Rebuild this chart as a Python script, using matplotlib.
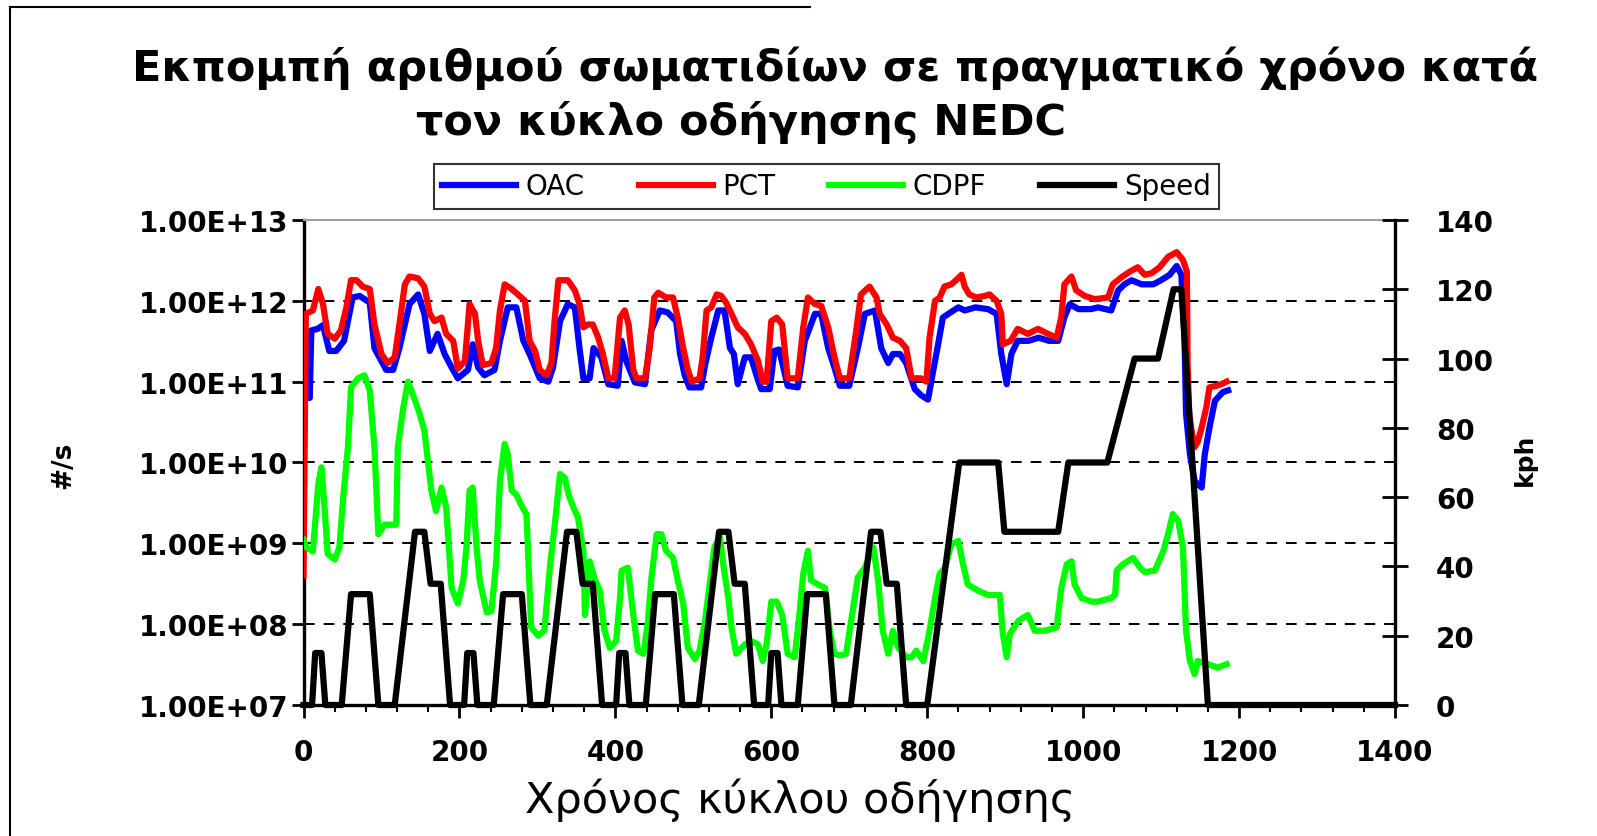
import matplotlib
matplotlib.use("Agg")
import matplotlib.pyplot as plt
import numpy as np
from matplotlib.ticker import FixedLocator, MultipleLocator, NullLocator, FuncFormatter
from matplotlib.lines import Line2D
from matplotlib.font_manager import FontProperties

# ---------------- data ----------------
title_line1 = "Εκπομπή αριθμού σωματιδίων σε πραγματικό χρόνο κατά"
title_line2 = "τον κύκλο οδήγησης NEDC"
x_label = "Χρόνος κύκλου οδήγησης"
y_label_left = "#/s"
y_label_right = "kph"
series_names = ["OAC", "PCT", "CDPF", "Speed"]

t_pct = [0, 3, 12, 19, 25, 31, 40, 48, 55, 61, 68, 76, 85, 91, 100, 108, 117, 123, 130, 136,
         147, 155, 162, 168, 177, 183, 192, 198, 207, 213, 220, 224, 230, 241, 247, 252, 258, 267,
         275, 284, 290, 297, 303, 312, 318, 322, 327, 339, 348, 354, 359, 365, 371, 378, 384, 391,
         399, 406, 412, 417, 423, 427, 438, 444, 450, 455, 465, 474, 480, 487, 493, 498, 508, 512,
         517, 523, 530, 536, 542, 549, 557, 566, 574, 583, 589, 594, 600, 607, 614, 621, 634, 641,
         647, 656, 664, 673, 681, 688, 700, 709, 715, 726, 735, 739, 748, 756, 765, 773, 780, 792,
         799, 803, 810, 816, 822, 831, 837, 844, 848, 854, 863, 874, 880, 889, 895, 897, 907, 916,
         929, 942, 955, 966, 972, 976, 985, 991, 1002, 1015, 1032, 1038, 1049, 1060, 1070, 1079,
         1088, 1098, 1109, 1120, 1128, 1133, 1134, 1136, 1139, 1143, 1147, 1152, 1158, 1162, 1171,
         1177, 1184]
pct = [4.0e8, 6.9e11, 7.6e11, 1.4e12, 9.1e11, 3.9e11, 3.4e11, 4.3e11, 8.3e11, 1.8e12, 1.8e12,
       1.5e12, 1.4e12, 5.1e11, 2.2e11, 1.7e11, 2.0e11, 5.1e11, 1.6e12, 2.0e12, 1.9e12, 1.5e12,
       6.9e11, 5.6e11, 6.2e11, 3.9e11, 3.2e11, 1.45e11, 1.8e11, 9.1e11, 6.9e11, 3.2e11, 1.6e11,
       1.7e11, 2.6e11, 7.6e11, 1.6e12, 1.4e12, 1.2e12, 1.0e12, 3.2e11, 2.4e11, 1.4e11, 1.2e11,
       1.7e11, 5.6e11, 1.8e12, 1.8e12, 1.35e12, 9.1e11, 4.7e11, 5.1e11, 5.1e11, 3.5e11, 2.2e11,
       1.1e11, 1.1e11, 6.2e11, 7.6e11, 5.1e11, 1.4e11, 1.1e11, 1.1e11, 2.6e11, 1.1e12, 1.26e12,
       1.1e12, 1.1e12, 6.2e11, 2.6e11, 1.4e11, 1.0e11, 1.1e11, 2.0e11, 7.6e11, 8.3e11, 1.2e12,
       1.15e12, 9.5e11, 6.9e11, 4.7e11, 3.9e11, 2.9e11, 1.8e11, 1.0e11, 1.0e11, 5.6e11, 6.2e11,
       5.1e11, 1.1e11, 1.1e11, 4.7e11, 1.1e12, 9.1e11, 8.7e11, 4.7e11, 2.0e11, 1.1e11, 1.1e11,
       4.3e11, 1.2e12, 1.5e12, 1.1e12, 6.9e11, 5.1e11, 3.5e11, 3.2e11, 2.6e11, 1.1e11, 1.1e11,
       1.0e11, 3.5e11, 1.0e12, 1.1e12, 1.5e12, 1.6e12, 1.8e12, 2.1e12, 1.5e12, 1.2e12, 1.1e12,
       1.15e12, 1.2e12, 1.0e12, 6.9e11, 2.9e11, 3.2e11, 4.5e11, 3.9e11, 4.5e11, 3.9e11, 3.5e11,
       6.3e11, 1.6e12, 2.0e12, 1.35e12, 1.15e12, 1.05e12, 1.1e12, 1.6e12, 1.95e12, 2.3e12, 2.6e12,
       2.1e12, 2.2e12, 2.6e12, 3.5e12, 4.0e12, 3.2e12, 2.3e12, 1.6e11, 4.0e10, 2.5e10, 1.55e10,
       1.8e10, 2.7e10, 4.8e10, 8.5e10, 8.9e10, 9.3e10, 1.0e11]

t_oac = [0, 8, 10, 18, 25, 33, 42, 52, 63, 72, 85, 91, 106, 115, 123, 136, 147, 155, 162, 172,
         181, 190, 198, 211, 217, 224, 232, 245, 252, 262, 273, 282, 290, 303, 314, 320, 329, 339,
         348, 354, 359, 367, 372, 382, 391, 403, 408, 414, 425, 438, 446, 457, 467, 478, 483, 489,
         495, 510, 515, 523, 532, 540, 547, 552, 557, 566, 574, 581, 587, 598, 604, 610, 621, 634,
         643, 656, 664, 673, 681, 688, 700, 711, 720, 733, 741, 750, 756, 765, 773, 784, 792, 801,
         807, 814, 820, 830, 840, 848, 862, 878, 889, 895, 902, 908, 916, 930, 943, 956, 968, 976,
         983, 994, 1010, 1019, 1036, 1045, 1053, 1062, 1075, 1090, 1100, 1111, 1120, 1126, 1130,
         1132, 1137, 1143, 1152, 1156, 1162, 1169, 1179, 1186]
oac = [6.3e10, 6.3e10, 4.3e11, 4.5e11, 5.0e11, 2.4e11, 2.4e11, 3.2e11, 1.1e12, 1.15e12, 9.5e11,
       2.6e11, 1.4e11, 1.4e11, 2.6e11, 9.1e11, 1.2e12, 6.9e11, 2.4e11, 3.9e11, 2.2e11, 1.5e11,
       1.1e11, 1.4e11, 2.9e11, 1.5e11, 1.2e11, 1.4e11, 3.2e11, 8.3e11, 8.3e11, 3.2e11, 2.2e11,
       1.1e11, 1.0e11, 1.5e11, 5.6e11, 9.1e11, 8.3e11, 2.6e11, 1.1e11, 1.1e11, 2.6e11, 2.0e11,
       9.3e10, 8.9e10, 3.2e11, 1.8e11, 9.8e10, 9.3e10, 4.3e11, 7.6e11, 7.2e11, 5.6e11, 2.2e11,
       1.2e11, 8.5e10, 8.5e10, 1.6e11, 3.5e11, 7.6e11, 7.6e11, 2.6e11, 2.2e11, 9.3e10, 2.0e11,
       2.0e11, 1.2e11, 8.1e10, 8.1e10, 2.4e11, 2.5e11, 8.9e10, 8.5e10, 3.2e11, 6.9e11, 6.9e11,
       2.6e11, 1.5e11, 8.9e10, 8.9e10, 2.6e11, 6.9e11, 7.6e11, 2.6e11, 1.7e11, 2.2e11, 2.2e11,
       1.7e11, 8.1e10, 6.8e10, 6.0e10, 1.26e11, 2.9e11, 6.2e11, 7.2e11, 8.3e11, 7.6e11, 8.3e11,
       7.9e11, 6.9e11, 2.2e11, 9.3e10, 2.2e11, 3.2e11, 3.2e11, 3.5e11, 3.2e11, 3.2e11, 6.3e11,
       9.1e11, 7.9e11, 7.9e11, 8.3e11, 7.6e11, 1.35e12, 1.6e12, 1.8e12, 1.6e12, 1.6e12, 1.8e12,
       2.1e12, 2.7e12, 2.1e12, 3.5e11, 4.0e10, 1.26e10, 5.9e9, 4.9e9, 1.26e10, 2.7e10, 5.8e10,
       7.4e10, 7.8e10]

t_cdpf = [0, 4, 12, 19, 23, 27, 31, 40, 46, 51, 57, 61, 70, 78, 85, 91, 96, 104, 119, 121, 128,
          134, 140, 149, 155, 164, 170, 177, 183, 190, 198, 205, 209, 213, 217, 222, 226, 235, 241,
          247, 252, 258, 262, 267, 273, 279, 286, 292, 301, 309, 316, 322, 329, 335, 340, 346, 352,
          359, 361, 367, 374, 380, 386, 393, 401, 406, 408, 416, 423, 429, 436, 442, 446, 453, 459,
          465, 474, 480, 487, 493, 502, 508, 515, 521, 527, 534, 539, 545, 549, 555, 566, 574, 583,
          589, 594, 600, 607, 614, 621, 630, 636, 641, 647, 651, 660, 669, 675, 681, 688, 696, 703,
          711, 720, 731, 737, 743, 750, 756, 763, 773, 780, 786, 795, 803, 810, 816, 823, 831, 840,
          846, 852, 865, 878, 893, 897, 902, 906, 917, 929, 938, 951, 966, 972, 979, 985, 989, 998,
          1011, 1019, 1036, 1041, 1043, 1051, 1064, 1073, 1079, 1092, 1103, 1109, 1115, 1122, 1128,
          1132, 1137, 1143, 1147, 1160, 1173, 1184]
cdpf = [1.1e9, 8.9e8, 7.9e8, 5.4e9, 8.7e9, 2.8e9, 7.4e8, 6.3e8, 8.9e8, 3.7e9, 1.55e10, 8.5e10,
        1.1e11, 1.2e11, 7.8e10, 1.55e10, 1.3e9, 1.7e9, 1.7e9, 1.55e10, 4.8e10, 1.0e11, 7.1e10,
        4.0e10, 2.5e10, 4.5e9, 2.5e9, 4.9e9, 2.8e9, 2.8e8, 1.8e8, 3.5e8, 8.9e8, 4.5e9, 4.9e9,
        8.9e8, 3.5e8, 1.4e8, 1.45e8, 5.5e8, 5.9e9, 1.7e10, 1.26e10, 4.5e9, 4.0e9, 3.0e9, 2.3e9,
        9.1e7, 7.2e7, 8.3e7, 5.0e8, 1.6e9, 7.2e9, 6.5e9, 4.0e9, 2.8e9, 2.1e9, 8.1e8, 1.3e8, 6.0e8,
        3.5e8, 2.6e8, 8.3e7, 5.1e7, 6.2e7, 2.1e8, 4.6e8, 5.0e8, 1.3e8, 4.7e7, 4.3e7, 1.1e8, 3.5e8,
        1.3e9, 1.3e9, 8.1e8, 6.6e8, 3.5e8, 1.8e8, 5.1e7, 3.7e7, 4.7e7, 1.1e8, 3.1e8, 8.9e8, 1.2e9,
        5.0e8, 2.1e8, 9.1e7, 4.3e7, 5.6e7, 6.2e7, 5.6e7, 3.5e7, 5.6e7, 1.9e8, 1.9e8, 1.3e8, 4.3e7,
        3.9e7, 1.3e8, 4.2e8, 8.1e8, 3.5e8, 3.1e8, 2.8e8, 8.3e7, 4.3e7, 4.1e7, 4.3e7, 1.2e8, 3.8e8,
        5.0e8, 8.9e8, 3.5e8, 8.3e7, 4.3e7, 8.3e7, 5.1e7, 3.9e7, 3.9e7, 4.7e7, 3.5e7, 8.3e7, 2.1e8,
        4.2e8, 5.0e8, 9.8e8, 1.07e9, 5.5e8, 3.1e8, 2.6e8, 2.3e8, 2.3e8, 7.6e7, 3.9e7, 7.6e7, 1.1e8,
        1.3e8, 8.3e7, 8.3e7, 9.1e7, 2.8e8, 5.5e8, 6.0e8, 3.1e8, 2.1e8, 1.9e8, 1.9e8, 2.1e8, 2.3e8,
        4.6e8, 5.5e8, 6.6e8, 5.0e8, 4.4e8, 4.6e8, 8.1e8, 1.3e9, 2.3e9, 1.9e9, 8.9e8, 8.3e7, 3.5e7,
        2.4e7, 3.5e7, 3.2e7, 2.9e7, 3.2e7]

t_speed = [0, 11, 15, 23, 28, 49, 61, 85, 96, 117, 143, 155, 163, 176, 188,
           195, 206, 210, 218, 223, 244, 256, 280, 291, 312, 338, 350, 358, 371, 383,
           390, 401, 405, 413, 418, 439, 451, 475, 486, 507, 533, 545, 553, 566, 578,
           585, 596, 600, 608, 613, 634, 646, 670, 681, 702, 728, 740, 748, 761, 773,
           780, 800, 841, 891, 899, 968, 981, 1031, 1066, 1096, 1116, 1126, 1160, 1180, 1400]
speed = [0, 0, 15, 15, 0, 0, 32, 32, 0, 0, 50, 50, 35, 35, 0,
         0, 0, 15, 15, 0, 0, 32, 32, 0, 0, 50, 50, 35, 35, 0,
         0, 0, 15, 15, 0, 0, 32, 32, 0, 0, 50, 50, 35, 35, 0,
         0, 0, 15, 15, 0, 0, 32, 32, 0, 0, 50, 50, 35, 35, 0,
         0, 0, 70, 70, 50, 50, 70, 70, 100, 100, 120, 120, 0, 0, 0]

left_ticks = [1e7, 1e8, 1e9, 1e10, 1e11, 1e12, 1e13]
right_ticks = [0, 20, 40, 60, 80, 100, 120, 140]
x_ticks = [0, 200, 400, 600, 800, 1000, 1200, 1400]

# ---------------- figure ----------------
W, H = 1597, 837
fig = plt.figure(figsize=(W / 100, H / 100), dpi=100)
fig.patch.set_facecolor("white")

L, R, T, B = 303.5, 1395, 221, 706
ax = fig.add_axes([L / W, 1 - B / H, (R - L) / W, (B - T) / H])
ax2 = ax.twinx()

lw = 4.5
ax.plot(t_oac, oac, color="#0000FF", lw=lw, label=series_names[0], zorder=3)
ax.plot(t_pct, pct, color="#FF0000", lw=lw, label=series_names[1], zorder=4)
ax.plot(t_cdpf, cdpf, color="#00FF00", lw=lw, label=series_names[2], zorder=5)
ax2.plot(t_speed, speed, color="black", lw=lw, label=series_names[3], clip_on=False, zorder=6)

ax.set_yscale("log")
ax.set_ylim(1e7, 1e13)
ax.set_xlim(0, 1400)
ax2.set_ylim(0, 140)

tick_fp = FontProperties(family="DejaVu Sans", weight="bold", size=20)

ax.yaxis.set_major_locator(FixedLocator(left_ticks))
ax.yaxis.set_minor_locator(NullLocator())
ax.yaxis.set_major_formatter(FuncFormatter(lambda v, p: f"{v:.2E}"))
ax.xaxis.set_major_locator(FixedLocator(x_ticks))
ax.xaxis.set_minor_locator(MultipleLocator(40))
ax2.yaxis.set_major_locator(FixedLocator(right_ticks))

ax.tick_params(axis="y", which="major", direction="out", length=9, width=2, pad=2)
ax.tick_params(axis="x", which="major", direction="out", length=9, width=2, pad=15)
ax.tick_params(axis="x", which="minor", direction="out", length=5, width=1.5)
ax2.tick_params(axis="y", which="major", direction="inout", length=19, width=2, pad=20)

for lab in ax.get_yticklabels() + ax.get_xticklabels() + ax2.get_yticklabels():
    lab.set_fontproperties(tick_fp)

ax.yaxis.grid(True, which="major", color="black", lw=1.4, linestyle=(0, (5.5, 4.6)))
ax.set_axisbelow(True)
ticks = ax.yaxis.get_major_ticks()
ticks[0].gridline.set_visible(False)
ticks[-1].gridline.set_visible(False)

for sp in ["left", "bottom"]:
    ax.spines[sp].set_linewidth(2.4)
    ax.spines[sp].set_color("black")
ax.spines["right"].set_visible(False)
ax.spines["top"].set_color("#a0a0a0")
ax.spines["top"].set_linewidth(1.5)
for sp in ["left", "bottom", "top"]:
    ax2.spines[sp].set_visible(False)
ax2.spines["right"].set_linewidth(2.4)
ax2.spines["right"].set_color("black")

# axis labels
fig.text(63 / W, 1 - 465 / H, y_label_left, rotation=90, ha="center", va="center",
         fontsize=19, fontweight="bold", family="DejaVu Sans")
fig.text(1525 / W, 1 - 460 / H, y_label_right, rotation=90, ha="center", va="center",
         fontsize=18, fontweight="bold", family="DejaVu Sans")
fig.text(800 / W, 1 - 813 / H, x_label, ha="center", va="baseline",
         fontsize=31, family="DejaVu Sans")

# title
fig.text(835 / W, 1 - 81.5 / H, title_line1, ha="center", va="baseline",
         fontsize=31, fontweight="bold", family="DejaVu Sans")
fig.text(741 / W, 1 - 135.5 / H, title_line2, ha="center", va="baseline",
         fontsize=31, fontweight="bold", family="DejaVu Sans")

# legend
h1, l1 = ax.get_legend_handles_labels()
h2, l2 = ax2.get_legend_handles_labels()
leg = fig.legend(h1 + h2, l1 + l2, loc="center", bbox_to_anchor=(826.5 / W, 1 - 187.5 / H),
                 ncol=4, frameon=True, fancybox=False, shadow=False, fontsize=20,
                 handlelength=2.65, handletextpad=0.35, columnspacing=1.95, borderpad=0.3,
                 borderaxespad=0)
leg.get_frame().set_edgecolor("black")
leg.get_frame().set_linewidth(1.5)
for ln in leg.get_lines():
    ln.set_linewidth(4.5)

# outer chart-area border fragments
fig.add_artist(Line2D([10 / W, 810 / W], [1 - 8 / H, 1 - 8 / H], color="black", lw=1.5))
fig.add_artist(Line2D([10 / W, 10 / W], [0, 1 - 8 / H], color="black", lw=1.5))

fig.savefig("out.png", dpi=100, facecolor="white")
